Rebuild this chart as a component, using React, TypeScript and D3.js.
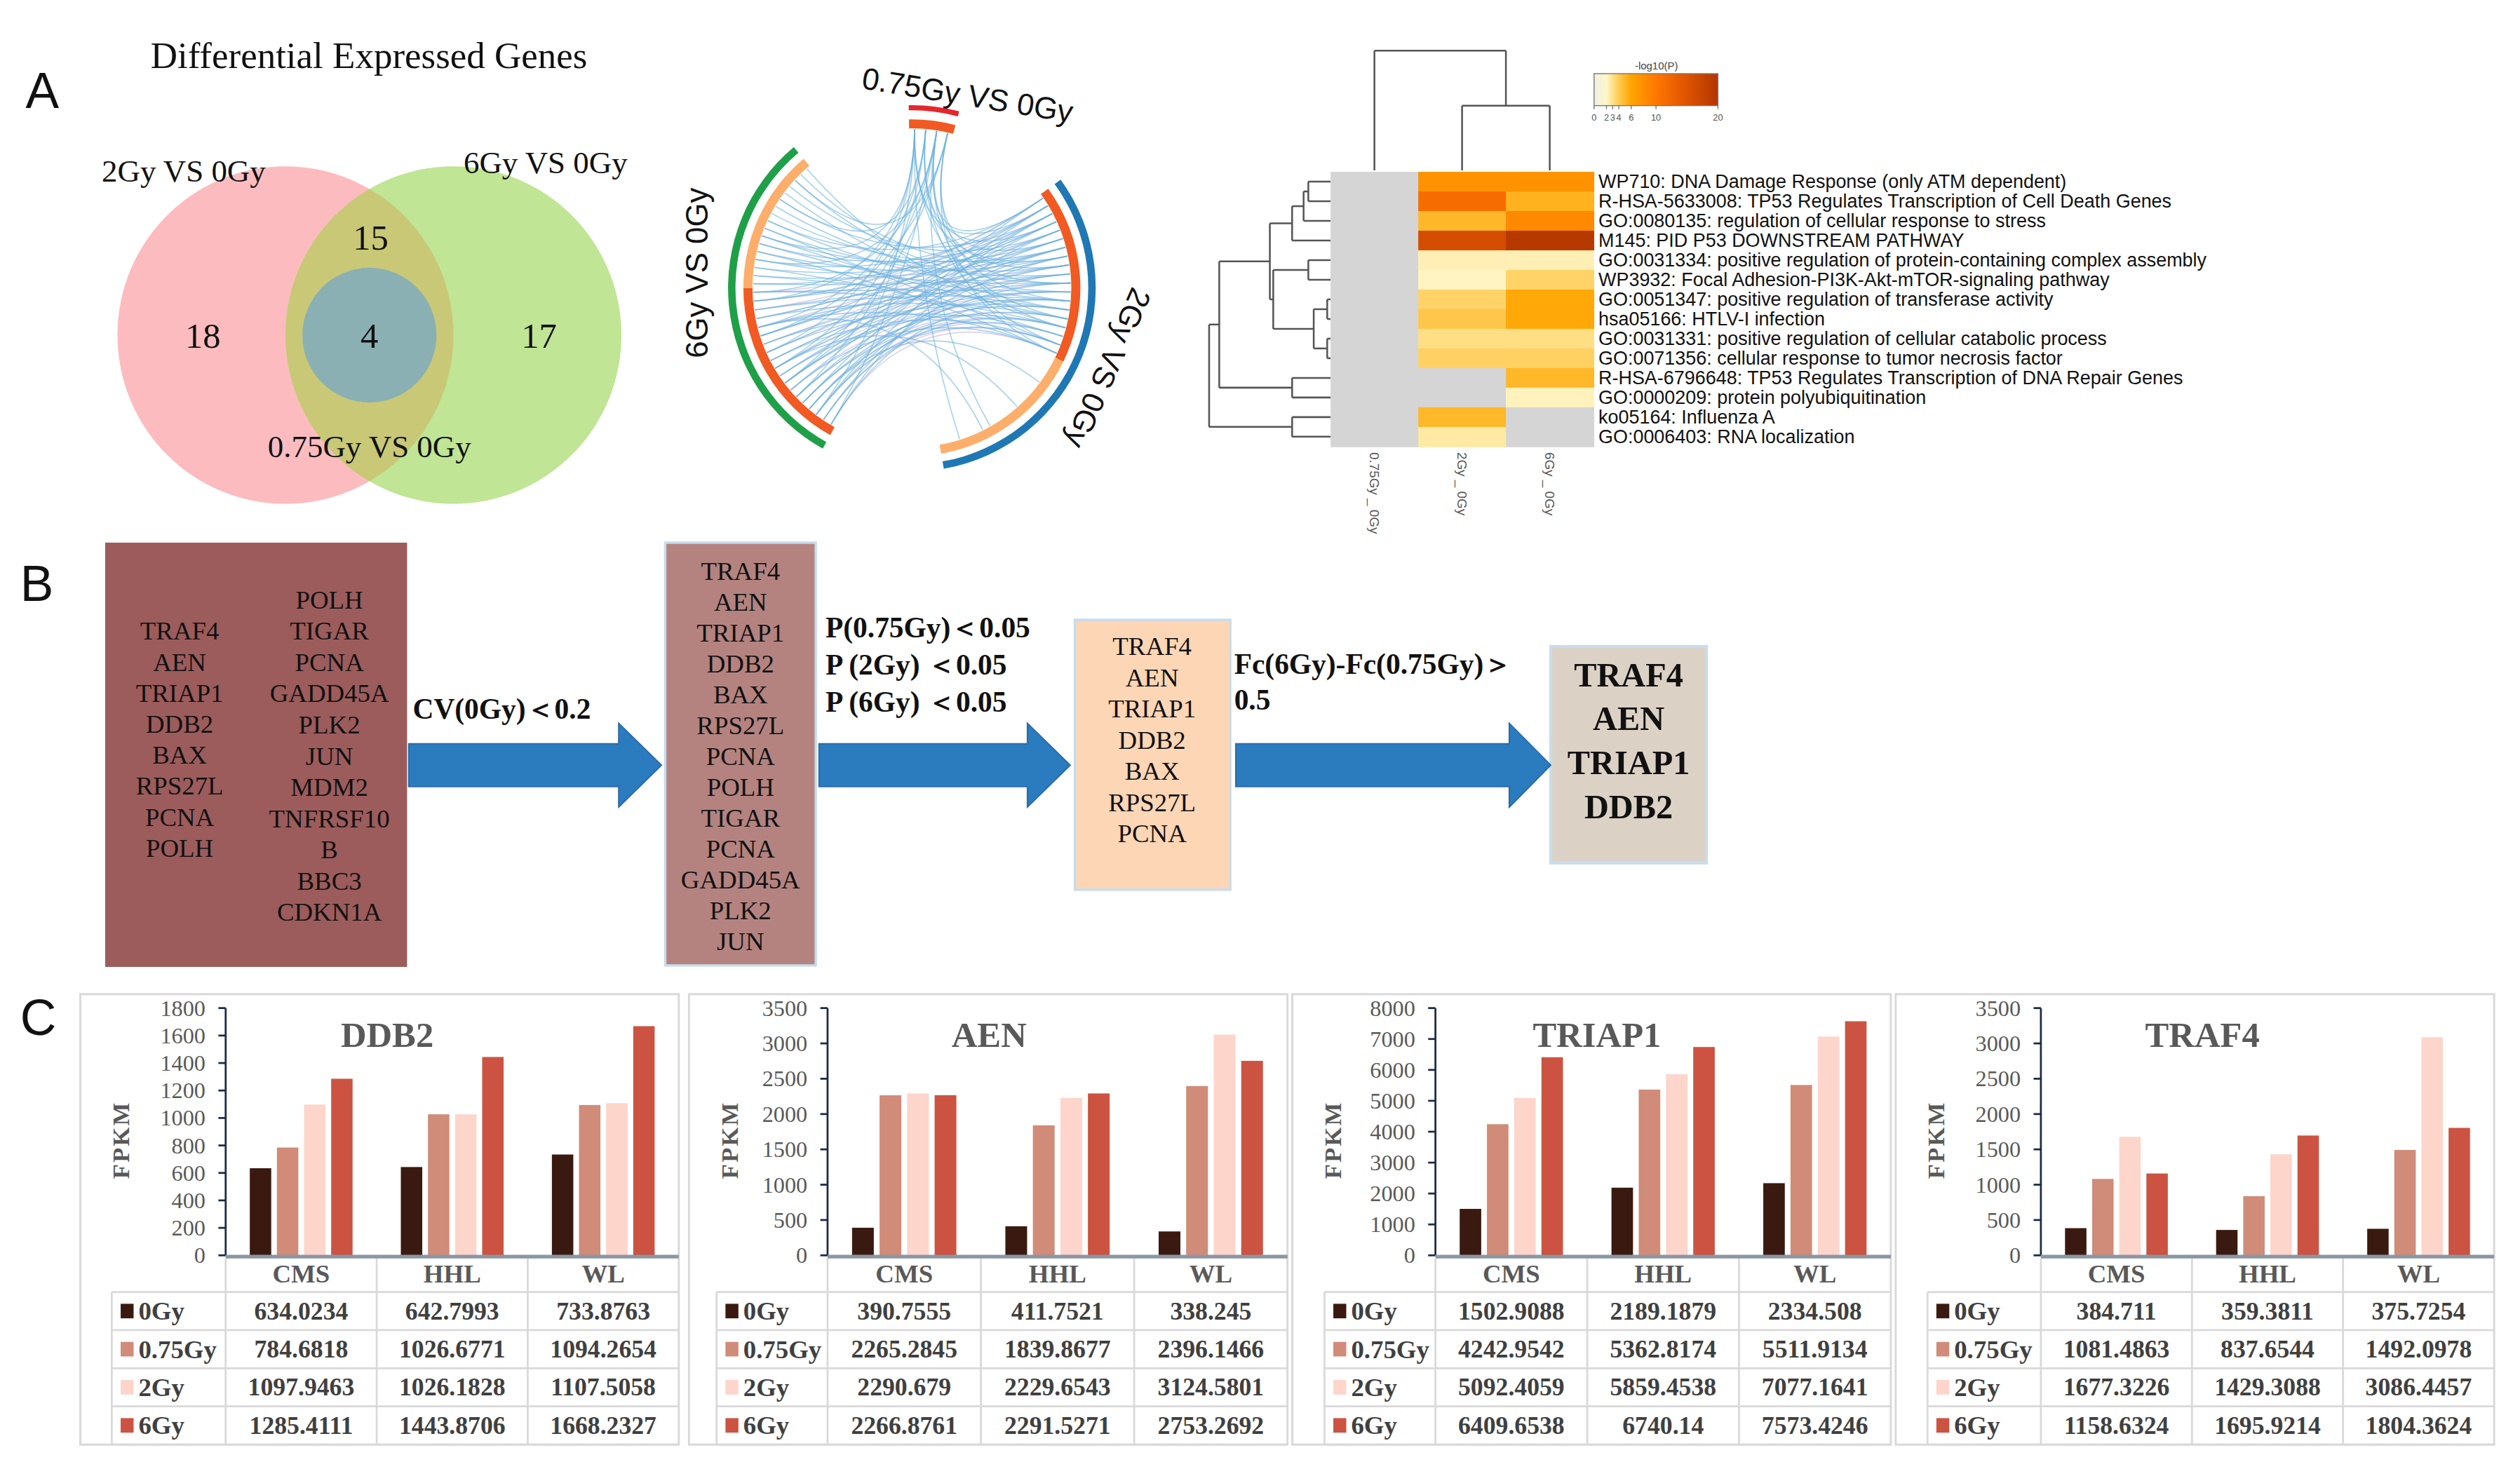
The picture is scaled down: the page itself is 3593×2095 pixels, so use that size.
import React from 'react';
import * as d3 from 'd3';

const SERIF = "'Liberation Serif','Times New Roman',Times,serif";
const SANS = "'Liberation Sans',Arial,Helvetica,sans-serif";

// ================= Panel A : Venn =================
const vennTitle = 'Differential Expressed Genes';
const vennSetLabels = ['2Gy VS 0Gy', '6Gy VS 0Gy', '0.75Gy VS 0Gy'];
const vennRegionCounts = [18, 15, 4, 17]; // 2Gy only, 2Gy&6Gy, all three, 6Gy only

// ================= Panel A : circos =================
const circosSegments = ['0.75Gy VS 0Gy', '2Gy VS 0Gy', '6Gy VS 0Gy'];
const circosGeneTotals = [4, 37, 36];
const circosSharedGenes = [4, 19, 19];
// [0.75Gy gene, 2Gy gene]
const linksTopTo2Gy = [[0, 1], [0, 7], [0, 14], [0, 34], [1, 3], [1, 10], [1, 17], [2, 0], [2, 8], [2, 15], [2, 30], [3, 5], [3, 12], [3, 18]];
// [0.75Gy gene, 6Gy gene]
const linksTopTo6Gy = [[0, 2], [0, 11], [0, 17], [0, 25], [1, 5], [1, 14], [1, 30], [2, 0], [2, 9], [2, 18], [2, 22], [3, 7], [3, 13], [3, 33]];
// [6Gy gene, 2Gy gene]
const links6GyTo2Gy = [[0, 4], [0, 12], [1, 7], [1, 15], [2, 2], [2, 10], [2, 17], [3, 9], [3, 14], [4, 1], [4, 11], [4, 16], [5, 6], [5, 13], [6, 3], [6, 18], [7, 0], [7, 8], [7, 12], [8, 5], [8, 15], [9, 2], [9, 11], [10, 7], [10, 17], [11, 4], [11, 13], [12, 9], [12, 16], [13, 1], [13, 6], [14, 10], [14, 18], [15, 3], [15, 14], [16, 8], [16, 12], [17, 0], [17, 5], [18, 11], [18, 15], [19, 2], [19, 9], [20, 6], [20, 13], [21, 4], [21, 16], [22, 1], [22, 10], [23, 7], [23, 18], [24, 3], [24, 12], [25, 5], [25, 14], [26, 8], [26, 17], [27, 0], [27, 11], [28, 6], [29, 9], [30, 2], [31, 13], [32, 4], [33, 10], [34, 7], [35, 15], [3, 22], [9, 26], [14, 31]];
// same gene present in both lists: [2Gy gene, 6Gy gene]
const sameGeneLinks = [[0, 18], [1, 17], [2, 16], [3, 15], [4, 14], [5, 13], [6, 12], [7, 11], [8, 10], [9, 9], [10, 8], [11, 7], [12, 6], [13, 5], [14, 4], [15, 3], [16, 2], [17, 1], [18, 0]];

// ================= Panel A : heatmap =================
const heatTerms = [
  'WP710: DNA Damage Response (only ATM dependent)',
  'R-HSA-5633008: TP53 Regulates Transcription of Cell Death Genes',
  'GO:0080135: regulation of cellular response to stress',
  'M145: PID P53 DOWNSTREAM PATHWAY',
  'GO:0031334: positive regulation of protein-containing complex assembly',
  'WP3932: Focal Adhesion-PI3K-Akt-mTOR-signaling pathway',
  'GO:0051347: positive regulation of transferase activity',
  'hsa05166: HTLV-I infection',
  'GO:0031331: positive regulation of cellular catabolic process',
  'GO:0071356: cellular response to tumor necrosis factor',
  'R-HSA-6796648: TP53 Regulates Transcription of DNA Repair Genes',
  'GO:0000209: protein polyubiquitination',
  'ko05164: Influenza A',
  'GO:0006403: RNA localization',
];
const heatColumns = ['0.75Gy _ 0Gy', '2Gy _ 0Gy', '6Gy _ 0Gy'];
const heat075Gy: (number | null)[] = [null, null, null, null, null, null, null, null, null, null, null, null, null, null];
const heat2Gy: (number | null)[] = [7.6, 11.5, 5.0, 16.0, 2.3, 2.1, 3.6, 4.2, 3.1, 3.7, null, null, 5.0, 2.6];
const heat6Gy: (number | null)[] = [7.6, 5.3, 8.5, 19.5, 2.3, 3.6, 5.8, 5.8, 3.1, 3.7, 5.0, 2.2, null, null];
const heatLegendTicks = [0, 2, 3, 4, 6, 10, 20];
type DNode = number | { h: number; c: DNode[] };
const rowTree: DNode = {
  h: 180, c: [
    { h: 165, c: [
      { h: 90, c: [
        { h: 57, c: [{ h: 40, c: [{ h: 33, c: [0, 1] }, 2] }, 3] },
        { h: 85, c: [{ h: 33, c: [4, 5] }, { h: 25, c: [{ h: 5, c: [6, 7] }, { h: 5, c: [8, 9] }] }] },
      ] },
      { h: 57, c: [10, 11] },
    ] },
    { h: 57, c: [12, 13] },
  ],
};
const colTree: DNode = { h: 74, c: [0, { h: 40, c: [1, 2] }] };

// ================= Panel B =================
const box1Col1 = ['TRAF4', 'AEN', 'TRIAP1', 'DDB2', 'BAX', 'RPS27L', 'PCNA', 'POLH'];
const box1Col2 = ['POLH', 'TIGAR', 'PCNA', 'GADD45A', 'PLK2', 'JUN', 'MDM2', 'TNFRSF10', 'B', 'BBC3', 'CDKN1A'];
const box2Genes = ['TRAF4', 'AEN', 'TRIAP1', 'DDB2', 'BAX', 'RPS27L', 'PCNA', 'POLH', 'TIGAR', 'PCNA', 'GADD45A', 'PLK2', 'JUN'];
const box3Genes = ['TRAF4', 'AEN', 'TRIAP1', 'DDB2', 'BAX', 'RPS27L', 'PCNA'];
const box4Genes = ['TRAF4', 'AEN', 'TRIAP1', 'DDB2'];
const filter1Labels = ['CV(0Gy)＜0.2'];
const filter2Labels = ['P(0.75Gy)＜0.05', 'P (2Gy) ＜0.05', 'P (6Gy) ＜0.05'];
const filter3Labels = ['Fc(6Gy)-Fc(0.75Gy)＞', '0.5'];

// ================= Panel C =================
const cellLines = ['CMS', 'HHL', 'WL'];
const doses = ['0Gy', '0.75Gy', '2Gy', '6Gy'];
const doseColors = ['#3a1a10', '#d08b79', '#fdd5cb', '#cc5341'];
const geneNames = ['DDB2', 'AEN', 'TRIAP1', 'TRAF4'];
const ddb2Fpkm = [[634.0234, 642.7993, 733.8763], [784.6818, 1026.6771, 1094.2654], [1097.9463, 1026.1828, 1107.5058], [1285.4111, 1443.8706, 1668.2327]];
const aenFpkm = [[390.7555, 411.7521, 338.245], [2265.2845, 1839.8677, 2396.1466], [2290.679, 2229.6543, 3124.5801], [2266.8761, 2291.5271, 2753.2692]];
const triap1Fpkm = [[1502.9088, 2189.1879, 2334.508], [4242.9542, 5362.8174, 5511.9134], [5092.4059, 5859.4538, 7077.1641], [6409.6538, 6740.14, 7573.4246]];
const traf4Fpkm = [[384.711, 359.3811, 375.7254], [1081.4863, 837.6544, 1492.0978], [1677.3226, 1429.3088, 3086.4457], [1158.6324, 1695.9214, 1804.3624]];
const ddb2Ticks = [0, 200, 400, 600, 800, 1000, 1200, 1400, 1600, 1800];
const aenTicks = [0, 500, 1000, 1500, 2000, 2500, 3000, 3500];
const triap1Ticks = [0, 1000, 2000, 3000, 4000, 5000, 6000, 7000, 8000];
const traf4Ticks = [0, 500, 1000, 1500, 2000, 2500, 3000, 3500];

const VW = 1560;
const VH = 909.6;

function PanelLetter({ x, y, t }: { x: number; y: number; t: string }) {
  return <text x={x} y={y} fontFamily={SANS} fontSize={31} fill="#111">{t}</text>;
}

function Venn() {
  const pink = { cx: 176.7, cy: 207.5, rx: 104, ry: 104.5 };
  const green = { cx: 280.7, cy: 207.5, rx: 104, ry: 104.5 };
  const inner = { cx: 228.7, cy: 207.5, rx: 41.5, ry: 41.7 };
  const countPos = [[125.6, 215.3], [229.5, 154.5], [228.7, 215.3], [333.7, 215.3]];
  const labelPos = [[113.7, 112.3], [337.7, 107.1], [228.7, 283.3]];
  return (
    <g>
      <defs>
        <clipPath id="pinkClip"><ellipse {...pink} /></clipPath>
      </defs>
      <text x={228.4} y={42.2} textAnchor="middle" fontFamily={SERIF} fontSize={23} fill="#111">{vennTitle}</text>
      <ellipse {...pink} fill="#fcbcbf" />
      <ellipse {...green} fill="#c0e594" />
      <ellipse {...green} fill="#c9c876" clipPath="url(#pinkClip)" />
      <ellipse {...inner} fill="#8ab0b4" />
      {vennRegionCounts.map((c, i) => (
        <text key={i} x={countPos[i][0]} y={countPos[i][1]} textAnchor="middle" fontFamily={SERIF} fontSize={22} fill="#111">{c}</text>
      ))}
      {vennSetLabels.map((l, i) => (
        <text key={l} x={labelPos[i][0]} y={labelPos[i][1]} textAnchor="middle" fontFamily={SERIF} fontSize={19.5} fill="#111">{l}</text>
      ))}
    </g>
  );
}

function Circos() {
  const cx = 564.5, cy = 178.2, rOut = 111.5, rIn = 101.5, rLink = 98.3;
  const deg = Math.PI / 180;
  const segRanges = [[-1, 15], [54, 170], [-151, -40]];
  const segSplit = [15, 116, -90];
  const outerColors = ['#e5262c', '#1f78b4', '#1fa048'];
  const outerWidth = [3.2, 4.6, 4.6];
  const geneAngle = (s: number, i: number) => {
    const [a0, a1] = segRanges[s];
    const sp = segSplit[s];
    const n = circosSharedGenes[s];
    const t = circosGeneTotals[s];
    if (i < n) return d3.scaleLinear().domain([0, n]).range([a0, sp])(i + 0.5) * deg;
    return d3.scaleLinear().domain([n, t]).range([sp, a1])(i + 0.5) * deg;
  };
  const pt = (a: number) => [cx + rLink * Math.sin(a), cy - rLink * Math.cos(a)];
  const linkPath = (s1: number, i1: number, s2: number, i2: number) => {
    const p = d3.path();
    const [x1, y1] = pt(geneAngle(s1, i1));
    const [x2, y2] = pt(geneAngle(s2, i2));
    p.moveTo(x1, y1);
    p.quadraticCurveTo(cx, cy, x2, y2);
    return p.toString();
  };
  const outerArc = (s: number) =>
    d3.arc()({ innerRadius: rOut - outerWidth[s] / 2, outerRadius: rOut + outerWidth[s] / 2, startAngle: segRanges[s][0] * deg, endAngle: segRanges[s][1] * deg } as any) as string;
  const innerArc = (a0: number, a1: number) =>
    d3.arc()({ innerRadius: rIn - 2.8, outerRadius: rIn + 2.8, startAngle: Math.min(a0, a1) * deg, endAngle: Math.max(a0, a1) * deg } as any) as string;
  const blue: string[] = [];
  linksTopTo2Gy.forEach(([a, b]) => blue.push(linkPath(0, a, 1, b)));
  linksTopTo6Gy.forEach(([a, b]) => blue.push(linkPath(0, a, 2, b)));
  links6GyTo2Gy.forEach(([a, b]) => blue.push(linkPath(2, a, 1, b)));
  const purple = sameGeneLinks.map(([a, b]) => linkPath(1, a, 2, b));
  return (
    <g>
      <g fill="none">
        {purple.map((d, i) => <path key={'p' + i} d={d} stroke="#b79ad0" strokeOpacity={0.45} strokeWidth={0.7} />)}
        {blue.map((d, i) => <path key={'b' + i} d={d} stroke="#6cb3e0" strokeOpacity={0.6} strokeWidth={0.7} />)}
      </g>
      <g transform={`translate(${cx},${cy})`}>
        {circosSegments.map((s, i) => <path key={s} d={outerArc(i)} fill={outerColors[i]} />)}
        {circosSegments.map((s, i) => (
          <g key={'in' + s}>
            <path d={innerArc(segRanges[i][0], segSplit[i])} fill="#f15a22" />
            {segSplit[i] !== segRanges[i][1] && <path d={innerArc(segSplit[i], segRanges[i][1])} fill="#fdae6b" />}
          </g>
        ))}
      </g>
      <text transform="translate(599,58.7) rotate(9.3)" textAnchor="middle" dominantBaseline="central" fontFamily={SANS} fontSize={19} fill="#111">{circosSegments[0]}</text>
      <text transform="translate(686,228) rotate(113.6)" textAnchor="middle" dominantBaseline="central" fontFamily={SANS} fontSize={19} fill="#111">{circosSegments[1]}</text>
      <text transform="translate(431.5,169) rotate(-90)" textAnchor="middle" dominantBaseline="central" fontFamily={SANS} fontSize={19} fill="#111">{circosSegments[2]}</text>
    </g>
  );
}

function dendroLines(node: DNode, leafPos: (i: number) => number, hPos: (h: number) => number, horizontalLeaves: boolean) {
  const lines: [number, number, number, number][] = [];
  const walk = (n: DNode): { pos: number; h: number } => {
    if (typeof n === 'number') return { pos: leafPos(n), h: 0 };
    const kids = n.c.map(walk);
    const hp = hPos(n.h);
    kids.forEach((k) => {
      if (horizontalLeaves) lines.push([hPos(k.h), k.pos, hp, k.pos]);
      else lines.push([k.pos, hPos(k.h), k.pos, hp]);
    });
    const ps = kids.map((k) => k.pos);
    const lo = Math.min(...ps), hi = Math.max(...ps);
    if (horizontalLeaves) lines.push([hp, lo, hp, hi]);
    else lines.push([lo, hp, hi, hp]);
    return { pos: (lo + hi) / 2, h: n.h };
  };
  walk(node);
  return lines;
}

function Heatmap() {
  const x = d3.scaleBand().domain(heatColumns).range([823.7, 986.5]);
  const y = d3.scaleBand().domain(heatTerms).range([106.4, 276.5]);
  const color = d3.scaleLinear<string>()
    .domain([0, 2, 3, 4, 6, 10, 14, 20])
    .range(['#f0efe6', '#fff6c8', '#ffe08a', '#ffcb52', '#ffa400', '#ff7800', '#e65900', '#b23600'])
    .clamp(true);
  const cols = [heat075Gy, heat2Gy, heat6Gy];
  const rowLines = dendroLines(rowTree, (i) => (y(heatTerms[i]) as number) + y.bandwidth() / 2,
    d3.scaleLinear().domain([0, 180]).range([823.7, 748.5]), true);
  const colLines = dendroLines(colTree, (i) => (x(heatColumns[i]) as number) + x.bandwidth() / 2,
    d3.scaleLinear().domain([0, 74]).range([105.5, 31.4]), false);
  const lg = d3.scaleLinear().domain([0, 20]).range([986.8, 1063.5]);
  const gradStops = [0, 2, 3, 4, 6, 10, 14, 20];
  return (
    <g>
      <defs>
        <linearGradient id="hmGrad" x1="0" x2="1" y1="0" y2="0">
          {gradStops.map((v) => <stop key={v} offset={v / 20} stopColor={color(v)} />)}
        </linearGradient>
      </defs>
      <g stroke="#555" strokeWidth={1.1} fill="none">
        {rowLines.map((l, i) => <line key={'r' + i} x1={l[0]} y1={l[1]} x2={l[2]} y2={l[3]} />)}
        {colLines.map((l, i) => <line key={'c' + i} x1={l[0]} y1={l[1]} x2={l[2]} y2={l[3]} />)}
      </g>
      {cols.map((vals, ci) => vals.map((v, ri) => (
        <rect key={ci + '-' + ri} x={x(heatColumns[ci])} y={y(heatTerms[ri])} width={x.bandwidth() + 0.4} height={y.bandwidth() + 0.4}
          fill={v == null ? '#d5d5d5' : color(v)} />
      )))}
      {heatTerms.map((t) => (
        <text key={t} x={989.5} y={(y(t) as number) + y.bandwidth() / 2} dominantBaseline="central" fontFamily={SANS} fontSize={11.7} fill="#111">{t}</text>
      ))}
      {heatColumns.map((c) => (
        <text key={c} transform={`translate(${(x(c) as number) + x.bandwidth() / 2},${280}) rotate(90)`} dominantBaseline="central"
          fontFamily={SANS} fontSize={8.2} fill="#555">{c}</text>
      ))}
      <text x={1025.4} y={40.8} textAnchor="middle" dominantBaseline="central" fontFamily={SANS} fontSize={6.5} fill="#444">-log10(P)</text>
      <rect x={986.8} y={45.6} width={76.7} height={19.8} fill="url(#hmGrad)" stroke="#777" strokeWidth={0.6} />
      {heatLegendTicks.map((t) => (
        <g key={t}>
          <line x1={lg(t)} x2={lg(t)} y1={65.4} y2={67.6} stroke="#777" strokeWidth={0.6} />
          <text x={lg(t)} y={72.6} textAnchor="middle" dominantBaseline="central" fontFamily={SANS} fontSize={5.6} fill="#555">{t}</text>
        </g>
      ))}
    </g>
  );
}

function arrowPath(x0: number, xh: number, xt: number, cy: number, sh: number, hh: number) {
  const p = d3.path();
  p.moveTo(x0, cy - sh);
  p.lineTo(xh, cy - sh);
  p.lineTo(xh, cy - hh);
  p.lineTo(xt, cy);
  p.lineTo(xh, cy + hh);
  p.lineTo(xh, cy + sh);
  p.lineTo(x0, cy + sh);
  p.closePath();
  return p.toString();
}

function GeneColumn({ genes, x, y0, step, size, bold }: { genes: string[]; x: number; y0: number; step: number; size: number; bold?: boolean }) {
  return (
    <g>
      {genes.map((g, i) => (
        <text key={i} x={x} y={y0 + i * step} textAnchor="middle" dominantBaseline="central" fontFamily={SERIF}
          fontSize={size} fontWeight={bold ? 'bold' : 'normal'} fill="#111">{g}</text>
      ))}
    </g>
  );
}

function PanelB() {
  const arrows = [[253, 383, 409.5], [507, 636, 662.5], [765, 934.3, 960]];
  const labelStyle = { fontFamily: SERIF, fontSize: 18, fontWeight: 'bold' as const, fill: '#111' };
  return (
    <g>
      <rect x={65.1} y={336} width={186.9} height={262.7} fill="#9c5c5c" />
      <GeneColumn genes={box1Col1} x={111.2} y0={390.7} step={19.2} size={16} />
      <GeneColumn genes={box1Col2} x={203.9} y0={371.3} step={19.35} size={16} />
      <rect x={411.8} y={336} width={93.2} height={261.8} fill="#b48380" stroke="#c7dcee" strokeWidth={1.5} />
      <GeneColumn genes={box2Genes} x={458.4} y0={353.5} step={19.13} size={16} />
      <rect x={665.4} y={383.8} width={96.2} height={167.1} fill="#fdd6b6" stroke="#c7dcee" strokeWidth={1.5} />
      <GeneColumn genes={box3Genes} x={713.2} y0={400.3} step={19.28} size={16} />
      <rect x={960} y={400.3} width={96.4} height={134.1} fill="#dcd1c5" stroke="#c7dcee" strokeWidth={1.8} />
      <GeneColumn genes={box4Genes} x={1008.2} y0={417.7} step={27.3} size={21} bold />
      {arrows.map((a, i) => (
        <path key={i} d={arrowPath(a[0], a[1], a[2], 473.8, 13.3, 26)} fill="#2b7bbf" stroke="#2a6aa6" strokeWidth={0.8} />
      ))}
      {filter1Labels.map((l, i) => <text key={l} x={255.5} y={438.9 + i * 23} dominantBaseline="central" {...labelStyle}>{l}</text>)}
      {filter2Labels.map((l, i) => <text key={l} x={511} y={388.4 + i * 23} dominantBaseline="central" {...labelStyle}>{l}</text>)}
      {filter3Labels.map((l, i) => <text key={l} x={764} y={411.3 + i * 22} dominantBaseline="central" {...labelStyle}>{l}</text>)}
    </g>
  );
}

function BarPanel({ idx, gene, values, ticks }: { idx: number; gene: string; values: number[][]; ticks: number[] }) {
  const panelLefts = [49.7, 426.5, 800, 1173.5];
  const axisOffsets = [90, 85.8, 88.6, 89.9];
  const legendOffsets = [19.5, 17.1, 19.9, 19.7];
  const left = panelLefts[idx];
  const right = left + 370.5;
  const axisX = left + axisOffsets[idx];
  const legendX = left + legendOffsets[idx];
  const top = 624.2, bottom = 777.3;
  const headerBottom = 800, rowH = 23.6, panelTop = 615.6, panelBottom = 894.5;
  const yMax = ticks[ticks.length - 1];
  const y = d3.scaleLinear().domain([0, yMax]).range([bottom, top]);
  const x0 = d3.scaleBand().domain(cellLines).range([axisX, right]);
  const x1 = d3.scaleBand().domain(doses).range([0, x0.bandwidth()]).paddingInner(0.21).paddingOuter(0.89);
  const grid = '#d9d9d9';
  const txt = '#404040';
  return (
    <g>
      <rect x={left} y={panelTop} width={right - left} height={panelBottom - panelTop} fill="#fff" stroke={grid} strokeWidth={1.3} />
      {doses.map((d, di) => cellLines.map((c, ci) => (
        <rect key={d + c} x={(x0(c) as number) + (x1(d) as number)} y={y(values[di][ci])} width={x1.bandwidth()}
          height={bottom - y(values[di][ci])} fill={doseColors[di]} />
      )))}
      <line x1={axisX} x2={axisX} y1={top} y2={bottom} stroke="#1c2b45" strokeWidth={1.2} />
      {ticks.map((t) => (
        <g key={t}>
          <line x1={axisX - 4.5} x2={axisX} y1={y(t)} y2={y(t)} stroke="#1c2b45" strokeWidth={1.2} />
          <text x={axisX - 12.5} y={y(t)} textAnchor="end" dominantBaseline="central" fontFamily={SERIF} fontSize={14} fill="#595959">{t}</text>
        </g>
      ))}
      <line x1={axisX} x2={right} y1={bottom + 0.8} y2={bottom + 0.8} stroke="#8c96a3" strokeWidth={2.3} />
      <text x={axisX + 100} y={641} textAnchor="middle" dominantBaseline="central" fontFamily={SERIF} fontSize={22} fontWeight="bold" fill="#595959">{gene}</text>
      <text transform={`translate(${left + 25},${705.9}) rotate(-90)`} textAnchor="middle" dominantBaseline="central" fontFamily={SERIF}
        fontSize={15} fontWeight="bold" letterSpacing={1} fill="#595959">FPKM</text>
      <g stroke={grid} strokeWidth={1.2}>
        {doses.map((d, i) => <line key={'h' + d} x1={legendX} x2={right} y1={headerBottom + i * rowH} y2={headerBottom + i * rowH} />)}
        <line x1={legendX} x2={right} y1={panelBottom} y2={panelBottom} />
        <line x1={legendX} x2={legendX} y1={headerBottom} y2={panelBottom} />
        <line x1={axisX} x2={axisX} y1={bottom + 2} y2={panelBottom} />
        {cellLines.slice(1).map((c) => <line key={'v' + c} x1={x0(c)} x2={x0(c)} y1={bottom + 2} y2={panelBottom} />)}
      </g>
      {cellLines.map((c) => (
        <text key={'cl' + c} x={(x0(c) as number) + x0.bandwidth() / 2} y={788.6} textAnchor="middle" dominantBaseline="central"
          fontFamily={SERIF} fontSize={16} fontWeight="bold" fill="#595959">{c}</text>
      ))}
      {doses.map((d, di) => {
        const cyy = headerBottom + di * rowH + rowH / 2;
        return (
          <g key={'row' + d}>
            <rect x={legendX + 5.5} y={cyy - 4.5} width={8} height={9} fill={doseColors[di]} />
            <text x={legendX + 16.5} y={cyy} dominantBaseline="central" fontFamily={SERIF} fontSize={16} fontWeight="bold" fill={txt}>{d}</text>
            {cellLines.map((c, ci) => (
              <text key={c} x={(x0(c) as number) + x0.bandwidth() / 2} y={cyy} textAnchor="middle" dominantBaseline="central"
                fontFamily={SERIF} fontSize={15.5} fontWeight="bold" fill={txt}>{String(values[di][ci])}</text>
            ))}
          </g>
        );
      })}
    </g>
  );
}

export default function App() {
  const panels = [
    { gene: geneNames[0], values: ddb2Fpkm, ticks: ddb2Ticks },
    { gene: geneNames[1], values: aenFpkm, ticks: aenTicks },
    { gene: geneNames[2], values: triap1Fpkm, ticks: triap1Ticks },
    { gene: geneNames[3], values: traf4Fpkm, ticks: traf4Ticks },
  ];
  return (
    <svg width={3593} height={2095} viewBox={`0 0 ${VW} ${VH}`} style={{ position: 'absolute', left: 0, top: 0, display: 'block' }}>
      <rect x={0} y={0} width={VW} height={VH} fill="#fff" />
      <PanelLetter x={15.9} y={67} t="A" />
      <PanelLetter x={12.5} y={372} t="B" />
      <PanelLetter x={12.5} y={641} t="C" />
      <Venn />
      <Circos />
      <Heatmap />
      <PanelB />
      {panels.map((p, i) => <BarPanel key={p.gene} idx={i} gene={p.gene} values={p.values} ticks={p.ticks} />)}
    </svg>
  );
}
